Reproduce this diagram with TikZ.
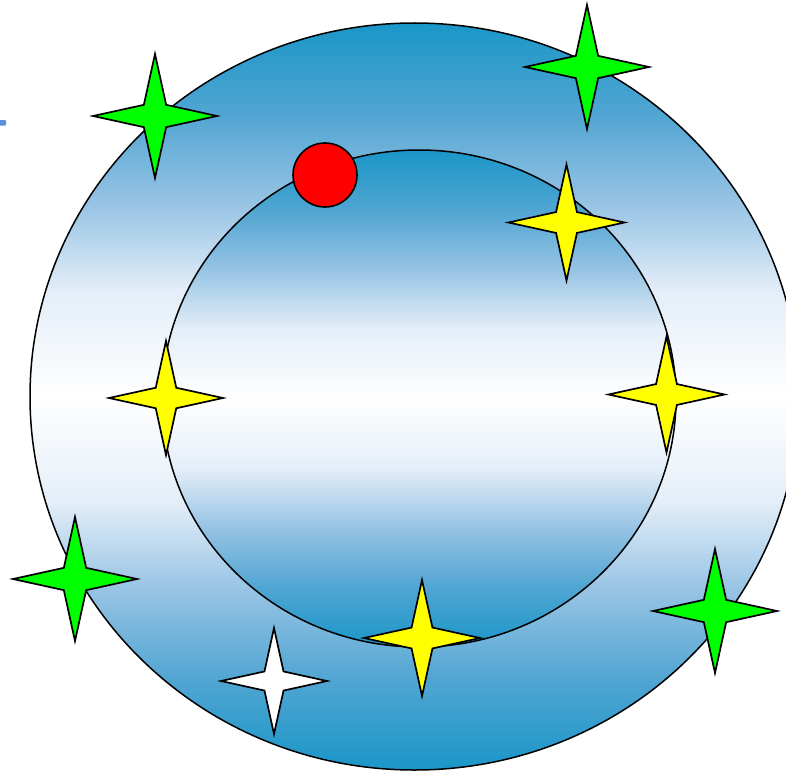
\documentclass[tikz,border=0pt]{standalone}
\usetikzlibrary{calc}
\definecolor{skyblue}{RGB}{26,150,200}
\definecolor{skymid}{RGB}{80,165,210}
\definecolor{skylight}{RGB}{150,195,228}
\definecolor{skypale}{RGB}{228,238,248}
\definecolor{markblue}{RGB}{91,143,216}
\definecolor{stargreen}{RGB}{0,255,0}
\definecolor{staryellow}{RGB}{255,255,0}
\pgfdeclareverticalshading{ringshade}{100bp}{%
  color(0bp)=(skyblue); color(25bp)=(skyblue); color(31bp)=(skymid);
  color(37bp)=(skylight); color(43bp)=(skypale); color(50bp)=(white);
  color(57bp)=(skypale); color(63bp)=(skylight); color(69bp)=(skymid);
  color(75bp)=(skyblue); color(100bp)=(skyblue)}
\tikzset{
  ring/.style={draw=black,line width=1.5pt,shading=ringshade},
  starline/.style={draw=black,line width=1.7pt},
  ball/.style={draw=black,line width=1.6pt,fill=red}
}
\newcommand\fourstar[4]{%
  \pgfmathsetmacro\ra{0.18*#3}%
  \draw[starline,fill=#4] (#1,#2) +(0,-#3) -- +(\ra,-\ra) -- +(#3,0) -- +(\ra,\ra) -- +(0,#3) -- +(-\ra,\ra) -- +(-#3,0) -- +(-\ra,-\ra) -- cycle;}
\begin{document}
\begin{tikzpicture}[x=1pt,y=-1pt]
\useasboundingbox (0,0) rectangle (786,773);
\clip (0,0) rectangle (786,773);
% outer ring
\path[ring] (414.5,396.5) ellipse [x radius=384.5, y radius=373.5];
% inner disc
\path[ring] (419,398.5) ellipse [x radius=257, y radius=248.5];
% red ball
\node[ball,circle,minimum size=64pt,inner sep=0pt] (redball) at (325,175) {};
% small blue mark at left edge
\fill[markblue,rounded corners=1pt] (-2,120) rectangle (6,125.5);
% green stars
\fourstar{155}{116}{62}{stargreen}
\fourstar{587}{67}{62}{stargreen}
\fourstar{75}{579}{62}{stargreen}
\fourstar{715}{611}{62}{stargreen}
% yellow stars
\fourstar{566.5}{222.5}{58}{staryellow}
\fourstar{166}{398}{57}{staryellow}
\fourstar{666.5}{394.5}{58}{staryellow}
\fourstar{422}{638}{58}{staryellow}
% white star
\fourstar{274}{681}{53}{white}
\end{tikzpicture}
\end{document}
